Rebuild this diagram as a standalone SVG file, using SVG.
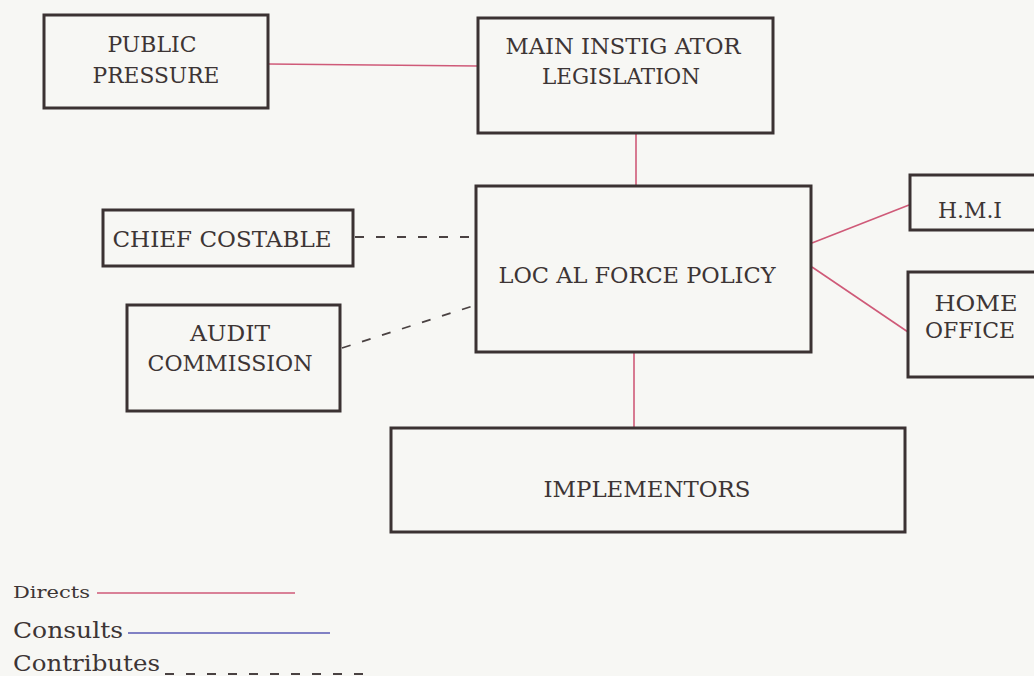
<svg xmlns="http://www.w3.org/2000/svg" width="1034" height="676" viewBox="0 0 1034 676">
<style>
.box{fill:none;stroke:#3b3232;stroke-width:3}
.t{font-family:"DejaVu Serif","Liberation Serif",serif;font-size:22px;fill:#3d3535;text-anchor:middle}
.lg{font-family:"DejaVu Serif","Liberation Serif",serif;fill:#3d3535}
.dir{stroke:#cf5a78;stroke-width:1.6;fill:none}
.con{stroke:#5a5ab4;stroke-width:1.6;fill:none}
.ctb{stroke:#4a4242;stroke-width:1.8;fill:none;stroke-dasharray:9 12}
</style>
<rect width="1034" height="676" fill="#f7f7f4"/>
<g id="connectors">
<line class="dir" x1="268" y1="64" x2="478" y2="66"/>
<line class="dir" x1="636" y1="133" x2="636" y2="186"/>
<line class="dir" x1="812" y1="243" x2="909" y2="205"/>
<line class="dir" x1="812" y1="267" x2="908" y2="332"/>
<line class="dir" x1="634" y1="352" x2="634" y2="428"/>
<line class="ctb" x1="355" y1="237" x2="476" y2="237"/>
<line class="ctb" x1="342" y1="348" x2="476" y2="305"/>
</g>
<g id="public-pressure">
<rect class="box" x="44" y="15" width="224" height="93"/>
<text class="t" x="152" y="52" textLength="89" lengthAdjust="spacingAndGlyphs">PUBLIC</text>
<text class="t" x="156" y="83" textLength="127" lengthAdjust="spacingAndGlyphs">PRESSURE</text>
</g>
<g id="main-instigator">
<rect class="box" x="478" y="18" width="295" height="115"/>
<text class="t" x="623" y="54" textLength="235" lengthAdjust="spacingAndGlyphs">MAIN INSTIG ATOR</text>
<text class="t" x="621" y="84" textLength="158" lengthAdjust="spacingAndGlyphs">LEGISLATION</text>
</g>
<g id="local-force-policy">
<rect class="box" x="476" y="186" width="335" height="166"/>
<text class="t" x="637" y="283" textLength="277" lengthAdjust="spacingAndGlyphs">LOC AL FORCE POLICY</text>
</g>
<g id="hmi">
<rect class="box" x="910" y="175" width="130" height="55"/>
<text class="t" x="970" y="218" textLength="64" lengthAdjust="spacingAndGlyphs">H.M.I</text>
</g>
<g id="home-office">
<rect class="box" x="908" y="272" width="132" height="105"/>
<text class="t" x="976" y="311" textLength="83" lengthAdjust="spacingAndGlyphs">HOME</text>
<text class="t" x="970" y="338" textLength="90" lengthAdjust="spacingAndGlyphs">OFFICE</text>
</g>
<g id="chief-costable">
<rect class="box" x="103" y="210" width="250" height="56"/>
<text class="t" x="222" y="247" textLength="219" lengthAdjust="spacingAndGlyphs">CHIEF COSTABLE</text>
</g>
<g id="audit-commission">
<rect class="box" x="127" y="305" width="213" height="106"/>
<text class="t" x="230" y="341" textLength="80" lengthAdjust="spacingAndGlyphs">AUDIT</text>
<text class="t" x="230" y="371" textLength="165" lengthAdjust="spacingAndGlyphs">COMMISSION</text>
</g>
<g id="implementors">
<rect class="box" x="391" y="428" width="514" height="104"/>
<text class="t" x="647" y="497" textLength="207" lengthAdjust="spacingAndGlyphs">IMPLEMENTORS</text>
</g>
<g id="legend">
<text class="lg" x="13" y="598" font-size="17" textLength="77" lengthAdjust="spacingAndGlyphs">Directs</text>
<line class="dir" x1="97" y1="593" x2="295" y2="593"/>
<text class="lg" x="13" y="638" font-size="22" textLength="110" lengthAdjust="spacingAndGlyphs">Consults</text>
<line class="con" x1="128" y1="633" x2="330" y2="633"/>
<text class="lg" x="13" y="671" font-size="23" textLength="147" lengthAdjust="spacingAndGlyphs">Contributes</text>
<line class="ctb" x1="165" y1="674" x2="367" y2="674" stroke-dasharray="6 8 10 8"/>
</g>
</svg>
